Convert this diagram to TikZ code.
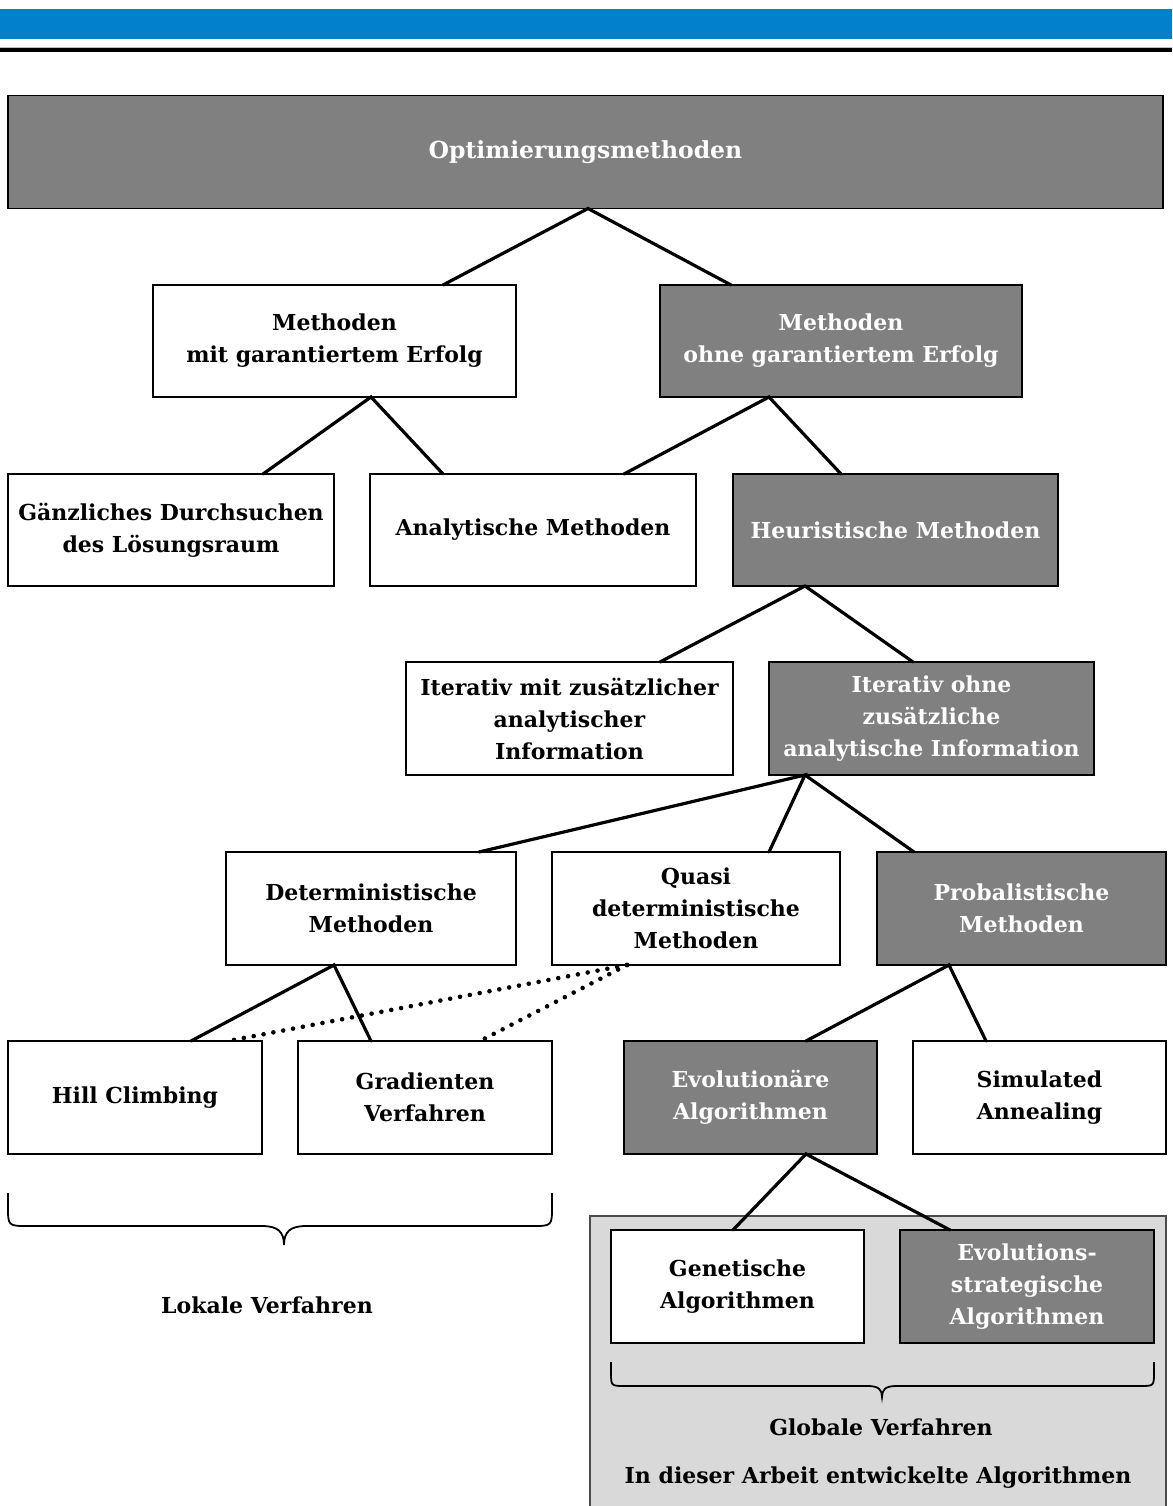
\documentclass[tikz,border=0pt]{standalone}
\usepackage{fontspec}
\setmainfont{DejaVu Serif}
\usetikzlibrary{calc}

\definecolor{bandblue}{HTML}{0281CA}
\definecolor{boxgray}{HTML}{808080}
\definecolor{areagray}{HTML}{D9D9D9}

\tikzset{
  x=1pt, y=-1pt,
  basebox/.style={draw=black, line width=1.9pt, inner sep=0pt, outer sep=0pt,
    align=center, font=\fontsize{22}{32}\selectfont\bfseries},
  plainbox/.style={basebox, fill=white, text=black},
  darkbox/.style={basebox, fill=boxgray, text=white},
  link/.style={line width=3.2pt, line cap=round},
  dotlink/.style={line width=4.6pt, line cap=round, dash pattern=on 0pt off 10pt},
  bracepath/.style={line width=1.8pt},
  caption/.style={font=\fontsize{22}{32}\selectfont\bfseries, inner sep=0pt},
}

\begin{document}
\begin{tikzpicture}
\useasboundingbox (0,0) rectangle (1172,1506);

% header band and rule
\fill[bandblue] (0,9) rectangle (1172,39);
\fill[black!25] (0,47) rectangle (1172,48.5);
\fill[black] (0,48.5) rectangle (1172,52);

% shaded area for the algorithms developed here
\draw[fill=areagray, draw=black!70, line width=1.4pt] (590,1216) rectangle (1166,1512);

% boxes
\node[darkbox, minimum width=1155, minimum height=113, font=\fontsize{23.5}{32}\selectfont\bfseries] (opt) at (585.5,152) {Optimierungsmethoden};

\node[plainbox, minimum width=363, minimum height=112] (mit) at (334.5,341) {Methoden\\mit garantiertem Erfolg};
\node[darkbox, minimum width=362, minimum height=112] (ohne) at (841,341) {Methoden\\ohne garantiertem Erfolg};

\node[plainbox, minimum width=326, minimum height=112] (gaenz) at (171,530) {Gänzliches Durchsuchen\\des Lösungsraum};
\node[plainbox, minimum width=326, minimum height=112] (analyt) at (533,530) {Analytische Methoden};
\node[darkbox, minimum width=325, minimum height=112] (heur) at (895.5,530) {Heuristische Methoden};

\node[plainbox, minimum width=327, minimum height=113] (itmit) at (569.5,718.5) {Iterativ mit zusätzlicher\\analytischer\\Information};
\node[darkbox, minimum width=325, minimum height=113] (itohne) at (931.5,718.5) {Iterativ ohne\\zusätzliche\\analytische Information};

\node[plainbox, minimum width=290, minimum height=113] (det) at (371,908.5) {Deterministische\\Methoden};
\node[plainbox, minimum width=288, minimum height=113] (quasi) at (696,908.5) {Quasi\\deterministische\\Methoden};
\node[darkbox, minimum width=289, minimum height=113] (prob) at (1021.5,908.5) {Probalistische\\Methoden};

\node[plainbox, minimum width=254, minimum height=113] (hill) at (135,1097.5) {Hill Climbing};
\node[plainbox, minimum width=254, minimum height=113] (grad) at (425,1097.5) {Gradienten\\Verfahren};
\node[darkbox, minimum width=253, minimum height=113] (evo) at (750.5,1097.5) {Evolutionäre\\Algorithmen};
\node[plainbox, minimum width=253, minimum height=113] (sim) at (1039.5,1097.5) {Simulated\\Annealing};

\node[plainbox, minimum width=253, minimum height=113] (gen) at (737.5,1286.5) {Genetische\\Algorithmen};
\node[darkbox, minimum width=254, minimum height=113] (evs) at (1027,1286.5) {Evolutions-\\strategische\\Algorithmen};

% tree connectors
\draw[link] ([xshift=108.5]mit.north) -- ([xshift=2.5]opt.south) -- ([xshift=-110]ohne.north);
\draw[link] ([xshift=92]gaenz.north) -- ([xshift=36.5]mit.south) -- ([xshift=-90]analyt.north);
\draw[link] ([xshift=91]analyt.north) -- ([xshift=-72]ohne.south) -- ([xshift=-54.5]heur.north);
\draw[link] ([xshift=90.5]itmit.north) -- ([xshift=-90.5]heur.south) -- ([xshift=-18.5]itohne.north);
\draw[link] ([xshift=108]det.north) -- ([xshift=-126.5]itohne.south) -- ([xshift=73]quasi.north);
\draw[link] ([xshift=-126.5]itohne.south) -- ([xshift=-107.5]prob.north);
\draw[link] ([xshift=56]hill.north) -- ([xshift=-37]det.south) -- ([xshift=-54]grad.north);
\draw[link] ([xshift=55.5]evo.north) -- ([xshift=-72.5]prob.south) -- ([xshift=-53.5]sim.north);
\draw[link] ([xshift=-4.5]gen.north) -- ([xshift=55.5]evo.south) -- ([xshift=-77]evs.north);

% quasi-deterministic links
\draw[dotlink] ([xshift=-69]quasi.south) -- ([xshift=93]hill.north);
\draw[dotlink] ([xshift=-69]quasi.south) -- ([xshift=55]grad.north);

% brace under the local methods
\draw[bracepath] (8,1193) -- (8,1206) .. controls (8,1226) .. (28,1226) -- (262,1226)
  .. controls (278,1226) and (284,1232) .. (284,1245)
  .. controls (284,1232) and (290,1226) .. (306,1226) -- (532,1226)
  .. controls (552,1226) .. (552,1206) -- (552,1193);
\node[caption] (lokal) at (267,1305) {Lokale Verfahren};

% brace under the global methods
\draw[bracepath] (611,1362) -- (611,1372) .. controls (611,1386) .. (625,1386) -- (868,1386)
  .. controls (879,1386) and (882,1390) .. (882,1397)
  .. controls (882,1390) and (885,1386) .. (896,1386) -- (1140,1386)
  .. controls (1154,1386) .. (1154,1372) -- (1154,1362);
\node[caption] (global) at (881,1427) {Globale Verfahren};
\node[caption] (arbeit) at (878,1478) {In dieser Arbeit entwickelte Algorithmen};
\end{tikzpicture}
\end{document}
